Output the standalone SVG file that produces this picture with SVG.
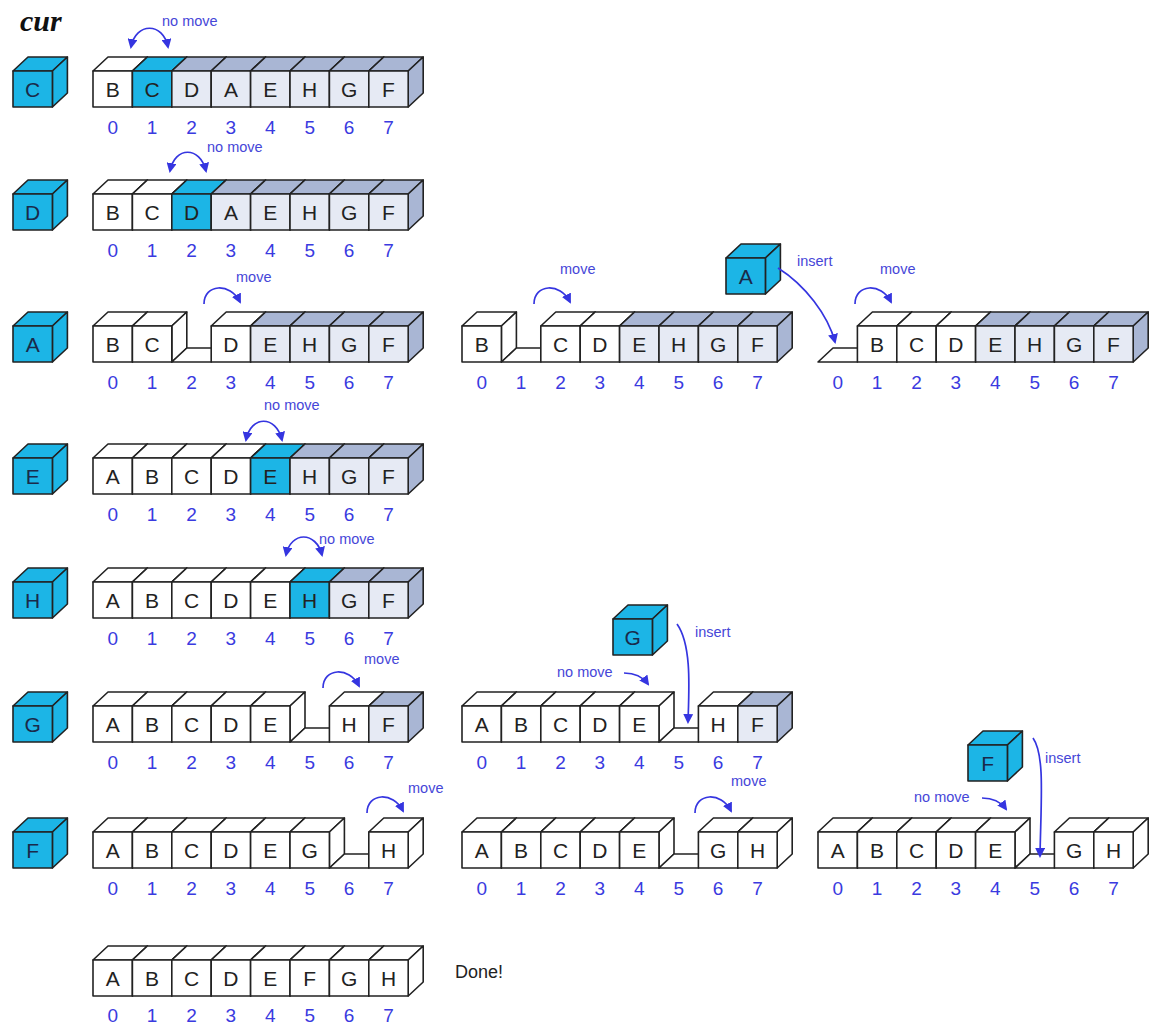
<svg xmlns="http://www.w3.org/2000/svg" xmlns:xlink="http://www.w3.org/1999/xlink" width="1154" height="1026" viewBox="0 0 1154 1026">
<style>
.wt{fill:#fff;stroke:#222;stroke-width:1.6;stroke-linejoin:round}
.uf{fill:#e6eaf4;stroke:#222;stroke-width:1.6;stroke-linejoin:round}
.ut{fill:#a9b6d4;stroke:#222;stroke-width:1.6;stroke-linejoin:round}
.cy{fill:#1cb5e6;stroke:#222;stroke-width:1.6;stroke-linejoin:round}
.lt{font-family:"Liberation Sans",Arial,sans-serif;font-size:21px;fill:#222;text-anchor:middle}
.lc{font-family:"Liberation Sans",Arial,sans-serif;font-size:21px;fill:#1a2a4a;text-anchor:middle}
.dg{font-family:"Liberation Sans",Arial,sans-serif;font-size:19px;fill:#3a3ae0;text-anchor:middle}
.lb{font-family:"Liberation Sans",Arial,sans-serif;font-size:14.5px;fill:#4646d8}
.ar{fill:none;stroke:#3535e0;stroke-width:1.7}
</style>
<defs>
<marker id="ah" viewBox="0 0 10 10" refX="8" refY="5" markerWidth="10" markerHeight="10" markerUnits="userSpaceOnUse" orient="auto-start-reverse"><path d="M0,0 L10,5 L0,10 z" fill="#3535e0"/></marker>
<g id="cw"><polygon class="wt" points="0,0 15,-14 54.4,-14 39.4,0"/><polygon class="wt" points="39.4,0 54.4,-14 54.4,22 39.4,36"/><rect class="wt" width="39.4" height="36"/></g>
<g id="cu"><polygon class="ut" points="0,0 15,-14 54.4,-14 39.4,0"/><polygon class="ut" points="39.4,0 54.4,-14 54.4,22 39.4,36"/><rect class="uf" width="39.4" height="36"/></g>
<g id="cc"><polygon class="cy" points="0,0 15,-14 54.4,-14 39.4,0"/><polygon class="cy" points="39.4,0 54.4,-14 54.4,22 39.4,36"/><rect class="cy" width="39.4" height="36"/></g>
<polygon id="fl" class="wt" points="0,36 15,22 54.4,22 39.4,36"/>
</defs>
<rect width="1154" height="1026" fill="#fff"/>
<text x="20" y="31" font-family="'Liberation Serif',serif" font-size="30" font-weight="bold" font-style="italic" fill="#111">cur</text>

<!-- current cubes -->
<g id="cur-C"><use href="#cc" x="13" y="71"/><text class="lc" x="32.7" y="97">C</text></g>
<g id="cur-D"><use href="#cc" x="13" y="194"/><text class="lc" x="32.7" y="220">D</text></g>
<g id="cur-A"><use href="#cc" x="13" y="326"/><text class="lc" x="32.7" y="352">A</text></g>
<g id="cur-E"><use href="#cc" x="13" y="458"/><text class="lc" x="32.7" y="484">E</text></g>
<g id="cur-H"><use href="#cc" x="13" y="582"/><text class="lc" x="32.7" y="608">H</text></g>
<g id="cur-G"><use href="#cc" x="13" y="706"/><text class="lc" x="32.7" y="732">G</text></g>
<g id="cur-F"><use href="#cc" x="13" y="832"/><text class="lc" x="32.7" y="858">F</text></g>

<!-- Row C -->
<g id="rowC">
<use href="#cw" x="93" y="71"/><use href="#cc" x="132.4" y="71"/><use href="#cu" x="171.8" y="71"/><use href="#cu" x="211.2" y="71"/><use href="#cu" x="250.6" y="71"/><use href="#cu" x="290" y="71"/><use href="#cu" x="329.4" y="71"/><use href="#cu" x="368.8" y="71"/>
<text class="lt" y="97"><tspan x="112.7">B</tspan><tspan x="152.1">C</tspan><tspan x="191.5">D</tspan><tspan x="230.9">A</tspan><tspan x="270.3">E</tspan><tspan x="309.7">H</tspan><tspan x="349.1">G</tspan><tspan x="388.5">F</tspan></text>
<text class="dg" y="134"><tspan x="112.7">0</tspan><tspan x="152.1">1</tspan><tspan x="191.5">2</tspan><tspan x="230.9">3</tspan><tspan x="270.3">4</tspan><tspan x="309.7">5</tspan><tspan x="349.1">6</tspan><tspan x="388.5">7</tspan></text>
</g>

<!-- Row D -->
<g id="rowD">
<use href="#cw" x="93" y="194"/><use href="#cw" x="132.4" y="194"/><use href="#cc" x="171.8" y="194"/><use href="#cu" x="211.2" y="194"/><use href="#cu" x="250.6" y="194"/><use href="#cu" x="290" y="194"/><use href="#cu" x="329.4" y="194"/><use href="#cu" x="368.8" y="194"/>
<text class="lt" y="220"><tspan x="112.7">B</tspan><tspan x="152.1">C</tspan><tspan x="191.5">D</tspan><tspan x="230.9">A</tspan><tspan x="270.3">E</tspan><tspan x="309.7">H</tspan><tspan x="349.1">G</tspan><tspan x="388.5">F</tspan></text>
<text class="dg" y="257"><tspan x="112.7">0</tspan><tspan x="152.1">1</tspan><tspan x="191.5">2</tspan><tspan x="230.9">3</tspan><tspan x="270.3">4</tspan><tspan x="309.7">5</tspan><tspan x="349.1">6</tspan><tspan x="388.5">7</tspan></text>
</g>

<!-- Row A array 1 -->
<g id="rowA1">
<use href="#cw" x="93" y="326"/><use href="#cw" x="132.4" y="326"/><use href="#fl" x="171.8" y="326"/><use href="#cw" x="211.2" y="326"/><use href="#cu" x="250.6" y="326"/><use href="#cu" x="290" y="326"/><use href="#cu" x="329.4" y="326"/><use href="#cu" x="368.8" y="326"/>
<text class="lt" y="352"><tspan x="112.7">B</tspan><tspan x="152.1">C</tspan><tspan x="230.9">D</tspan><tspan x="270.3">E</tspan><tspan x="309.7">H</tspan><tspan x="349.1">G</tspan><tspan x="388.5">F</tspan></text>
<text class="dg" y="389"><tspan x="112.7">0</tspan><tspan x="152.1">1</tspan><tspan x="191.5">2</tspan><tspan x="230.9">3</tspan><tspan x="270.3">4</tspan><tspan x="309.7">5</tspan><tspan x="349.1">6</tspan><tspan x="388.5">7</tspan></text>
</g>

<!-- Row A array 2 -->
<g id="rowA2">
<use href="#cw" x="462" y="326"/><use href="#fl" x="501.4" y="326"/><use href="#cw" x="540.8" y="326"/><use href="#cw" x="580.2" y="326"/><use href="#cu" x="619.6" y="326"/><use href="#cu" x="659" y="326"/><use href="#cu" x="698.4" y="326"/><use href="#cu" x="737.8" y="326"/>
<text class="lt" y="352"><tspan x="481.7">B</tspan><tspan x="560.5">C</tspan><tspan x="599.9">D</tspan><tspan x="639.3">E</tspan><tspan x="678.7">H</tspan><tspan x="718.1">G</tspan><tspan x="757.5">F</tspan></text>
<text class="dg" y="389"><tspan x="481.7">0</tspan><tspan x="521.1">1</tspan><tspan x="560.5">2</tspan><tspan x="599.9">3</tspan><tspan x="639.3">4</tspan><tspan x="678.7">5</tspan><tspan x="718.1">6</tspan><tspan x="757.5">7</tspan></text>
</g>

<!-- Row A array 3 -->
<g id="rowA3">
<use href="#fl" x="818" y="326"/><use href="#cw" x="857.4" y="326"/><use href="#cw" x="896.8" y="326"/><use href="#cw" x="936.2" y="326"/><use href="#cu" x="975.6" y="326"/><use href="#cu" x="1015" y="326"/><use href="#cu" x="1054.4" y="326"/><use href="#cu" x="1093.8" y="326"/>
<text class="lt" y="352"><tspan x="877.1">B</tspan><tspan x="916.5">C</tspan><tspan x="955.9">D</tspan><tspan x="995.3">E</tspan><tspan x="1034.7">H</tspan><tspan x="1074.1">G</tspan><tspan x="1113.5">F</tspan></text>
<text class="dg" y="389"><tspan x="837.7">0</tspan><tspan x="877.1">1</tspan><tspan x="916.5">2</tspan><tspan x="955.9">3</tspan><tspan x="995.3">4</tspan><tspan x="1034.7">5</tspan><tspan x="1074.1">6</tspan><tspan x="1113.5">7</tspan></text>
</g>
<g id="cube-A-insert"><use href="#cc" x="726" y="258"/><text class="lc" x="745.7" y="284">A</text></g>

<!-- Row E -->
<g id="rowE">
<use href="#cw" x="93" y="458"/><use href="#cw" x="132.4" y="458"/><use href="#cw" x="171.8" y="458"/><use href="#cw" x="211.2" y="458"/><use href="#cc" x="250.6" y="458"/><use href="#cu" x="290" y="458"/><use href="#cu" x="329.4" y="458"/><use href="#cu" x="368.8" y="458"/>
<text class="lt" y="484"><tspan x="112.7">A</tspan><tspan x="152.1">B</tspan><tspan x="191.5">C</tspan><tspan x="230.9">D</tspan><tspan x="270.3">E</tspan><tspan x="309.7">H</tspan><tspan x="349.1">G</tspan><tspan x="388.5">F</tspan></text>
<text class="dg" y="521"><tspan x="112.7">0</tspan><tspan x="152.1">1</tspan><tspan x="191.5">2</tspan><tspan x="230.9">3</tspan><tspan x="270.3">4</tspan><tspan x="309.7">5</tspan><tspan x="349.1">6</tspan><tspan x="388.5">7</tspan></text>
</g>

<!-- Row H -->
<g id="rowH">
<use href="#cw" x="93" y="582"/><use href="#cw" x="132.4" y="582"/><use href="#cw" x="171.8" y="582"/><use href="#cw" x="211.2" y="582"/><use href="#cw" x="250.6" y="582"/><use href="#cc" x="290" y="582"/><use href="#cu" x="329.4" y="582"/><use href="#cu" x="368.8" y="582"/>
<text class="lt" y="608"><tspan x="112.7">A</tspan><tspan x="152.1">B</tspan><tspan x="191.5">C</tspan><tspan x="230.9">D</tspan><tspan x="270.3">E</tspan><tspan x="309.7">H</tspan><tspan x="349.1">G</tspan><tspan x="388.5">F</tspan></text>
<text class="dg" y="645"><tspan x="112.7">0</tspan><tspan x="152.1">1</tspan><tspan x="191.5">2</tspan><tspan x="230.9">3</tspan><tspan x="270.3">4</tspan><tspan x="309.7">5</tspan><tspan x="349.1">6</tspan><tspan x="388.5">7</tspan></text>
</g>

<!-- Row G array 1 -->
<g id="rowG1">
<use href="#cw" x="93" y="706"/><use href="#cw" x="132.4" y="706"/><use href="#cw" x="171.8" y="706"/><use href="#cw" x="211.2" y="706"/><use href="#cw" x="250.6" y="706"/><use href="#fl" x="290" y="706"/><use href="#cw" x="329.4" y="706"/><use href="#cu" x="368.8" y="706"/>
<text class="lt" y="732"><tspan x="112.7">A</tspan><tspan x="152.1">B</tspan><tspan x="191.5">C</tspan><tspan x="230.9">D</tspan><tspan x="270.3">E</tspan><tspan x="349.1">H</tspan><tspan x="388.5">F</tspan></text>
<text class="dg" y="769"><tspan x="112.7">0</tspan><tspan x="152.1">1</tspan><tspan x="191.5">2</tspan><tspan x="230.9">3</tspan><tspan x="270.3">4</tspan><tspan x="309.7">5</tspan><tspan x="349.1">6</tspan><tspan x="388.5">7</tspan></text>
</g>

<!-- Row G array 2 -->
<g id="rowG2">
<use href="#cw" x="462" y="706"/><use href="#cw" x="501.4" y="706"/><use href="#cw" x="540.8" y="706"/><use href="#cw" x="580.2" y="706"/><use href="#cw" x="619.6" y="706"/><use href="#fl" x="659" y="706"/><use href="#cw" x="698.4" y="706"/><use href="#cu" x="737.8" y="706"/>
<text class="lt" y="732"><tspan x="481.7">A</tspan><tspan x="521.1">B</tspan><tspan x="560.5">C</tspan><tspan x="599.9">D</tspan><tspan x="639.3">E</tspan><tspan x="718.1">H</tspan><tspan x="757.5">F</tspan></text>
<text class="dg" y="769"><tspan x="481.7">0</tspan><tspan x="521.1">1</tspan><tspan x="560.5">2</tspan><tspan x="599.9">3</tspan><tspan x="639.3">4</tspan><tspan x="678.7">5</tspan><tspan x="718.1">6</tspan><tspan x="757.5">7</tspan></text>
</g>
<g id="cube-G-insert"><use href="#cc" x="613" y="619"/><text class="lc" x="632.7" y="645">G</text></g>

<!-- Row F array 1 -->
<g id="rowF1">
<use href="#cw" x="93" y="832"/><use href="#cw" x="132.4" y="832"/><use href="#cw" x="171.8" y="832"/><use href="#cw" x="211.2" y="832"/><use href="#cw" x="250.6" y="832"/><use href="#cw" x="290" y="832"/><use href="#fl" x="329.4" y="832"/><use href="#cw" x="368.8" y="832"/>
<text class="lt" y="858"><tspan x="112.7">A</tspan><tspan x="152.1">B</tspan><tspan x="191.5">C</tspan><tspan x="230.9">D</tspan><tspan x="270.3">E</tspan><tspan x="309.7">G</tspan><tspan x="388.5">H</tspan></text>
<text class="dg" y="895"><tspan x="112.7">0</tspan><tspan x="152.1">1</tspan><tspan x="191.5">2</tspan><tspan x="230.9">3</tspan><tspan x="270.3">4</tspan><tspan x="309.7">5</tspan><tspan x="349.1">6</tspan><tspan x="388.5">7</tspan></text>
</g>

<!-- Row F array 2 -->
<g id="rowF2">
<use href="#cw" x="462" y="832"/><use href="#cw" x="501.4" y="832"/><use href="#cw" x="540.8" y="832"/><use href="#cw" x="580.2" y="832"/><use href="#cw" x="619.6" y="832"/><use href="#fl" x="659" y="832"/><use href="#cw" x="698.4" y="832"/><use href="#cw" x="737.8" y="832"/>
<text class="lt" y="858"><tspan x="481.7">A</tspan><tspan x="521.1">B</tspan><tspan x="560.5">C</tspan><tspan x="599.9">D</tspan><tspan x="639.3">E</tspan><tspan x="718.1">G</tspan><tspan x="757.5">H</tspan></text>
<text class="dg" y="895"><tspan x="481.7">0</tspan><tspan x="521.1">1</tspan><tspan x="560.5">2</tspan><tspan x="599.9">3</tspan><tspan x="639.3">4</tspan><tspan x="678.7">5</tspan><tspan x="718.1">6</tspan><tspan x="757.5">7</tspan></text>
</g>

<!-- Row F array 3 -->
<g id="rowF3">
<use href="#cw" x="818" y="832"/><use href="#cw" x="857.4" y="832"/><use href="#cw" x="896.8" y="832"/><use href="#cw" x="936.2" y="832"/><use href="#cw" x="975.6" y="832"/><use href="#fl" x="1015" y="832"/><use href="#cw" x="1054.4" y="832"/><use href="#cw" x="1093.8" y="832"/>
<text class="lt" y="858"><tspan x="837.7">A</tspan><tspan x="877.1">B</tspan><tspan x="916.5">C</tspan><tspan x="955.9">D</tspan><tspan x="995.3">E</tspan><tspan x="1074.1">G</tspan><tspan x="1113.5">H</tspan></text>
<text class="dg" y="895"><tspan x="837.7">0</tspan><tspan x="877.1">1</tspan><tspan x="916.5">2</tspan><tspan x="955.9">3</tspan><tspan x="995.3">4</tspan><tspan x="1034.7">5</tspan><tspan x="1074.1">6</tspan><tspan x="1113.5">7</tspan></text>
</g>
<g id="cube-F-insert"><use href="#cc" x="968" y="745"/><text class="lc" x="987.7" y="771">F</text></g>

<!-- Done row -->
<g id="rowDone">
<use href="#cw" x="93" y="960"/><use href="#cw" x="132.4" y="960"/><use href="#cw" x="171.8" y="960"/><use href="#cw" x="211.2" y="960"/><use href="#cw" x="250.6" y="960"/><use href="#cw" x="290" y="960"/><use href="#cw" x="329.4" y="960"/><use href="#cw" x="368.8" y="960"/>
<text class="lt" y="986"><tspan x="112.7">A</tspan><tspan x="152.1">B</tspan><tspan x="191.5">C</tspan><tspan x="230.9">D</tspan><tspan x="270.3">E</tspan><tspan x="309.7">F</tspan><tspan x="349.1">G</tspan><tspan x="388.5">H</tspan></text>
<text class="dg" y="1022"><tspan x="112.7">0</tspan><tspan x="152.1">1</tspan><tspan x="191.5">2</tspan><tspan x="230.9">3</tspan><tspan x="270.3">4</tspan><tspan x="309.7">5</tspan><tspan x="349.1">6</tspan><tspan x="388.5">7</tspan></text>
<text x="455" y="978" font-family="'Liberation Sans',Arial,sans-serif" font-size="18" fill="#222">Done!</text>
</g>

<!-- connectors -->
<g id="connectors">
<path class="ar" d="M131,47 C136,22 163,22 168,47" marker-start="url(#ah)" marker-end="url(#ah)"/>
<path class="ar" d="M170,171 C175,146 200,146 206,171" marker-start="url(#ah)" marker-end="url(#ah)"/>
<path class="ar" d="M246,440 C251,415 276,415 282,440" marker-start="url(#ah)" marker-end="url(#ah)"/>
<path class="ar" d="M286,555 C291,531 316,531 322,555" marker-start="url(#ah)" marker-end="url(#ah)"/>
<path class="ar" d="M204,304 C204,284 230,282 240,302" marker-end="url(#ah)"/>
<path class="ar" d="M534,304 C534,284 560,282 570,302" marker-end="url(#ah)"/>
<path class="ar" d="M855,304 C855,284 881,282 891,302" marker-end="url(#ah)"/>
<path class="ar" d="M323,688 C323,668 349,666 359,686" marker-end="url(#ah)"/>
<path class="ar" d="M367,813 C367,793 393,791 403,811" marker-end="url(#ah)"/>
<path class="ar" d="M695,813 C695,793 721,791 731,811" marker-end="url(#ah)"/>
<path class="ar" d="M778,268 C805,285 828,315 835,342" marker-end="url(#ah)"/>
<path class="ar" d="M677,624 C692,645 689,690 688,722" marker-end="url(#ah)"/>
<path class="ar" d="M1033,738 C1045,755 1041,800 1040,856" marker-end="url(#ah)"/>
<path class="ar" d="M624,673 C636,673 643,677 648,684" marker-end="url(#ah)"/>
<path class="ar" d="M982,798 C994,798 1001,802 1006,809" marker-end="url(#ah)"/>
<text class="lb" x="162" y="26">no move</text>
<text class="lb" x="207" y="152">no move</text>
<text class="lb" x="236" y="282">move</text>
<text class="lb" x="560" y="274">move</text>
<text class="lb" x="797" y="266">insert</text>
<text class="lb" x="880" y="274">move</text>
<text class="lb" x="264" y="410">no move</text>
<text class="lb" x="319" y="544">no move</text>
<text class="lb" x="364" y="664">move</text>
<text class="lb" x="695" y="637">insert</text>
<text class="lb" x="557" y="677">no move</text>
<text class="lb" x="408" y="793">move</text>
<text class="lb" x="731" y="786">move</text>
<text class="lb" x="1045" y="763">insert</text>
<text class="lb" x="914" y="802">no move</text>
</g>
</svg>
